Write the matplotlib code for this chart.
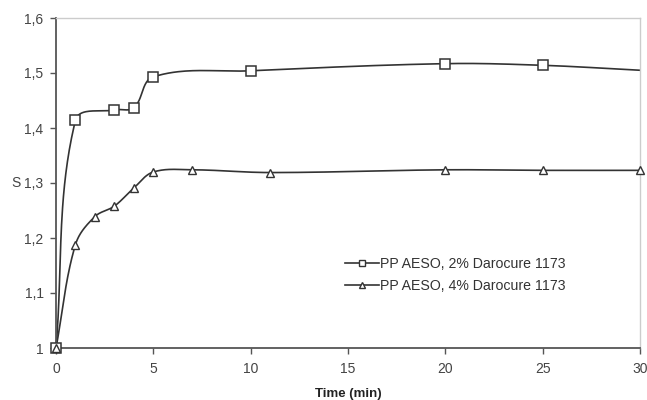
import numpy as np
import matplotlib
matplotlib.use("Agg")
import matplotlib.pyplot as plt
from matplotlib.ticker import FuncFormatter

plt.rcParams['font.family'] = ['Liberation Sans', 'DejaVu Sans']

# Data
t_2 = [0, 1, 3, 4, 5, 10, 20, 25, 30]
s_2 = [1.0, 1.414, 1.433, 1.437, 1.493, 1.504, 1.517, 1.514, 1.505]
mark_2 = [0, 1, 2, 3, 4, 5, 6, 7]

t_4 = [0, 1, 2, 3, 4, 5, 7, 11, 20, 25, 30]
s_4 = [1.0, 1.188, 1.239, 1.258, 1.291, 1.320, 1.324, 1.319, 1.324, 1.323, 1.323]

label_2 = "PP AESO, 2% Darocure 1173"
label_4 = "PP AESO, 4% Darocure 1173"
x_ticks = [0, 5, 10, 15, 20, 25, 30]
y_ticks = [1.0, 1.1, 1.2, 1.3, 1.4, 1.5, 1.6]

XS, YS = 19.47, 550.0  # screen aspect used for the smoothing


def smooth(x, y, n=40, k=0.35):
    """Smoothed line through the data (chord-length scaled Bezier, screen space)."""
    P = np.column_stack([np.asarray(x, float) * XS, np.asarray(y, float) * YS])
    m = len(P)
    T = np.zeros_like(P)
    for i in range(m):
        a = P[max(i - 1, 0)]; b = P[min(i + 1, m - 1)]
        d = b - a
        T[i] = d / np.hypot(*d)
    tt = np.linspace(0, 1, n)[:, None]
    out = []
    for i in range(m - 1):
        p0, p3 = P[i], P[i + 1]
        L = np.hypot(*(p3 - p0))
        c1 = p0 + T[i] * L * k
        c2 = p3 - T[i + 1] * L * k
        b = (1 - tt) ** 3 * p0 + 3 * (1 - tt) ** 2 * tt * c1 + 3 * (1 - tt) * tt ** 2 * c2 + tt ** 3 * p3
        out.append(b)
    out = np.vstack(out)
    return out[:, 0] / XS, out[:, 1] / YS


fig = plt.figure(figsize=(6.47, 4.0), dpi=100)
ax = fig.add_axes([56 / 647, 1 - 348 / 400, (640 - 56) / 647, (348 - 18) / 400])

lc = '#333333'
x2, y2 = smooth(t_2, s_2)
x4, y4 = smooth(t_4, s_4)
ax.plot(x2, y2, color=lc, lw=1.2, zorder=2, clip_on=False)
ax.plot(x4, y4, color=lc, lw=1.2, zorder=2, clip_on=False)
ax.plot([t_2[i] for i in mark_2], [s_2[i] for i in mark_2], ls='none', marker='s',
        ms=7, mfc='white', mec=lc, mew=1.1, zorder=3, clip_on=False)
ax.plot(t_4, s_4, ls='none', marker='^', ms=5.5, mfc='white', mec=lc, mew=1.0, zorder=3,
        clip_on=False)

# legend proxies
ax.plot([], [], color=lc, lw=1.2, marker='s', ms=5, mfc='white', mec=lc, label=label_2)
ax.plot([], [], color=lc, lw=1.2, marker='^', ms=5, mfc='white', mec=lc, label=label_4)
leg = ax.legend(loc='upper left', bbox_to_anchor=(0.478, 0.306), frameon=False,
                fontsize=10.2, handlelength=2.4, handletextpad=0.05, labelspacing=0.58,
                labelcolor='#333333', borderpad=0.2)

ax.set_xlim(0, 30)
ax.set_ylim(1.0, 1.6)
ax.set_xticks(x_ticks)
ax.set_yticks(y_ticks)
ax.yaxis.set_major_formatter(FuncFormatter(
    lambda v, p: ('%g' % round(v, 1)).replace('.', ',')))
ax.tick_params(axis='both', direction='out', length=4, width=1, colors='#555555',
               labelsize=10, labelcolor='#444444')
ax.tick_params(axis='y', pad=5)
ax.tick_params(axis='x', pad=6)
for s in ['left', 'bottom']:
    ax.spines[s].set_color('#555555')
    ax.spines[s].set_linewidth(1.3)
for s in ['top', 'right']:
    ax.spines[s].set_color('#cccccc')
    ax.spines[s].set_linewidth(1.0)

ax.set_xlabel('Time (min)', fontsize=9.5, fontweight='bold', color='#222222', labelpad=9)
ax.set_ylabel('S', fontsize=10, rotation=0, color='#444444', labelpad=6, va='center')

fig.savefig('out.png', dpi=100)
